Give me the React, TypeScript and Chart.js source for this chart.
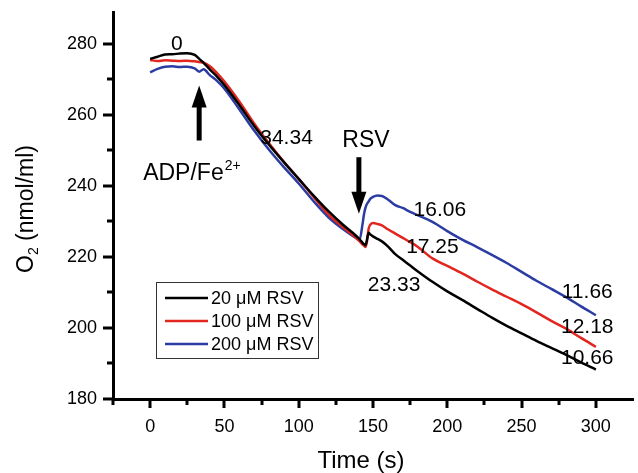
import React, { useEffect, useRef } from 'react';
import { Chart, registerables } from 'chart.js';

Chart.register(...registerables);

// ---- Data ----
const time = [0, 5, 10, 15, 20, 25, 30, 33, 36, 40, 45, 50, 60, 70, 80, 90, 100, 110, 120, 130, 138, 141, 143, 144, 145, 146, 147, 148, 150, 153, 156, 160, 165, 170, 175, 180, 190, 200, 210, 220, 230, 240, 250, 260, 270, 280, 290, 300];

const o2_20uM = [275.8, 276.4, 277.0, 277.1, 277.3, 277.4, 276.9, 275.8, 274.7, 272.9, 270.8, 268.4, 262.8, 256.9, 251.6, 246.7, 242.0, 237.3, 232.9, 229.0, 226.2, 225.0, 224.0, 223.6, 223.3, 225.0, 226.8, 226.4, 225.8, 225.1, 224.4, 223.0, 220.8, 219.2, 217.6, 216.0, 213.0, 210.3, 207.9, 205.4, 202.9, 200.6, 198.5, 196.4, 194.4, 192.4, 190.3, 188.3];

const o2_100uM = [275.5, 275.2, 275.4, 275.3, 275.2, 275.3, 275.1, 274.9, 274.7, 273.8, 271.8, 269.4, 263.8, 257.6, 252.0, 246.8, 242.0, 236.9, 232.0, 228.3, 225.6, 224.4, 223.5, 223.2, 222.8, 224.5, 227.8, 229.0, 229.6, 229.3, 228.9, 227.8, 226.6, 225.4, 224.2, 222.9, 219.6, 217.5, 215.4, 213.1, 210.9, 208.8, 206.7, 204.4, 202.0, 199.8, 197.2, 194.7];

const o2_200uM = [272.0, 273.0, 273.6, 273.7, 273.5, 273.6, 273.1, 272.2, 272.9, 271.3, 269.6, 267.4, 261.6, 255.6, 250.2, 245.3, 240.7, 235.7, 231.2, 227.8, 225.5, 224.9, 229.4, 232.2, 234.0, 235.0, 235.6, 236.3, 236.9, 237.3, 237.2, 236.2, 234.6, 233.8, 232.7, 231.8, 229.9, 227.3, 224.9, 222.8, 220.6, 218.3, 215.8, 213.3, 211.0, 208.7, 206.1, 203.6];

const seriesLabels = ['20 \u03BCM RSV', '100 \u03BCM RSV', '200 \u03BCM RSV'];
const seriesColors = ['#000000', '#e2261f', '#2b3ca2'];

const xTickLabels = [0, 50, 100, 150, 200, 250, 300];
const yTickLabels = [180, 200, 220, 240, 260, 280];

// rate annotations (text and the data position they sit at)
const rateTexts = ['0', '34.34', '16.06', '17.25', '23.33', '11.66', '12.18', '10.66'];
const rateX = [18, 91.8, 195, 190, 164.2, 294.2, 294.2, 294.2];
const rateY = [280, 253.4, 233.1, 222.8, 212.0, 210.2, 200.3, 191.4];

const FONT = '"Liberation Sans", Arial, Helvetica, sans-serif';

const annotationPlugin = {
  id: 'annotations',
  afterDraw(chart: any) {
    const ctx = chart.ctx as CanvasRenderingContext2D;
    const xs = chart.scales.x;
    const ys = chart.scales.y;
    const area = chart.chartArea;
    ctx.save();

    // tick marks
    ctx.strokeStyle = '#000';
    ctx.lineWidth = 3;
    for (let v = -25; v <= 300; v += 25) {
      const px = Math.round(xs.getPixelForValue(v));
      const major = v >= 0 && v % 50 === 0;
      ctx.beginPath();
      ctx.moveTo(px, area.bottom);
      ctx.lineTo(px, area.bottom + (major ? 9 : 6));
      ctx.stroke();
    }
    for (let v = 180; v <= 280; v += 10) {
      const py = Math.round(ys.getPixelForValue(v));
      const major = v % 20 === 0;
      ctx.beginPath();
      ctx.moveTo(area.left, py);
      ctx.lineTo(area.left - (major ? 10 : 6), py);
      ctx.stroke();
    }

    ctx.fillStyle = '#000';
    ctx.textAlign = 'center';
    ctx.textBaseline = 'middle';

    // rate numbers
    ctx.font = `21px ${FONT}`;
    rateTexts.forEach((t, i) => {
      ctx.fillText(t, xs.getPixelForValue(rateX[i]), ys.getPixelForValue(rateY[i]));
    });

    // arrows
    const drawArrow = (x: number, yTail: number, yTip: number) => {
      const px = xs.getPixelForValue(x);
      const pTail = ys.getPixelForValue(yTail);
      const pTip = ys.getPixelForValue(yTip);
      const dir = pTip < pTail ? -1 : 1;
      const headLen = 22;
      const headHalf = 7.5;
      const base = pTip - dir * headLen;
      ctx.lineWidth = 5;
      ctx.beginPath();
      ctx.moveTo(px, pTail);
      ctx.lineTo(px, base + dir * 2);
      ctx.stroke();
      ctx.beginPath();
      ctx.moveTo(px, pTip);
      ctx.lineTo(px - headHalf, base);
      ctx.lineTo(px + headHalf, base);
      ctx.closePath();
      ctx.fill();
    };
    drawArrow(33, 252.8, 268.3);
    drawArrow(140.5, 248.1, 232.2);

    // ADP/Fe2+
    ctx.textAlign = 'left';
    ctx.textBaseline = 'alphabetic';
    ctx.font = `23px ${FONT}`;
    const adpX = xs.getPixelForValue(-4.7);
    const adpY = ys.getPixelForValue(241.6);
    ctx.fillText('ADP/Fe', adpX, adpY);
    const w = ctx.measureText('ADP/Fe').width;
    ctx.font = `14px ${FONT}`;
    ctx.fillText('2+', adpX + w + 1, adpY - 10);

    // RSV
    ctx.textAlign = 'center';
    ctx.textBaseline = 'middle';
    ctx.font = `23px ${FONT}`;
    ctx.fillText('RSV', xs.getPixelForValue(145.3), ys.getPixelForValue(252.8));

    // x title
    ctx.font = `24px ${FONT}`;
    ctx.fillText('Time (s)', 361, 461);

    // y title with subscript
    ctx.save();
    ctx.translate(27, 209);
    ctx.rotate(-Math.PI / 2);
    ctx.textAlign = 'left';
    ctx.textBaseline = 'middle';
    ctx.font = `23px ${FONT}`;
    const wO = ctx.measureText('O').width;
    const rest = ' (nmol/ml)';
    const wRest = ctx.measureText(rest).width;
    ctx.font = `14px ${FONT}`;
    const w2 = ctx.measureText('2').width;
    const total = wO + w2 + wRest;
    let cx = -total / 2;
    ctx.font = `23px ${FONT}`;
    ctx.fillText('O', cx, 0);
    cx += wO;
    ctx.font = `14px ${FONT}`;
    ctx.fillText('2', cx, 7);
    cx += w2;
    ctx.font = `23px ${FONT}`;
    ctx.fillText(rest, cx, 0);
    ctx.restore();

    // legend box
    const lx = area.left + 43;
    const ly = area.top + 270;
    ctx.strokeStyle = '#333';
    ctx.lineWidth = 1;
    ctx.strokeRect(lx + 0.5, ly + 0.5, 162, 76);
    ctx.font = `18px ${FONT}`;
    ctx.textAlign = 'left';
    ctx.textBaseline = 'middle';
    seriesLabels.forEach((lab, i) => {
      const yy = ly + 16 + i * 23;
      ctx.strokeStyle = seriesColors[i];
      ctx.lineWidth = 2.5;
      ctx.beginPath();
      ctx.moveTo(lx + 9, yy);
      ctx.lineTo(lx + 52, yy);
      ctx.stroke();
      ctx.fillStyle = '#000';
      ctx.fillText(lab, lx + 55, yy + 1);
    });

    ctx.restore();
  },
};

export default function App() {
  const canvasRef = useRef<HTMLCanvasElement | null>(null);

  useEffect(() => {
    const canvas = canvasRef.current;
    if (!canvas) return;
    const seriesValues = [o2_20uM, o2_100uM, o2_200uM];
    const chart = new Chart(canvas, {
      type: 'line',
      data: {
        datasets: seriesValues.map((vals, i) => ({
          label: seriesLabels[i],
          data: time.map((t, j) => ({ x: t, y: vals[j] })),
          borderColor: seriesColors[i],
          backgroundColor: seriesColors[i],
          borderWidth: 2.5,
          pointRadius: 0,
          fill: false,
          cubicInterpolationMode: 'monotone' as const,
        })),
      },
      options: {
        responsive: false,
        animation: false,
        devicePixelRatio: 1,
        layout: { padding: { top: 12, right: 5, left: 0, bottom: 0 } },
        plugins: {
          legend: { display: false },
          tooltip: { enabled: false },
        },
        scales: {
          x: {
            type: 'linear',
            min: -25,
            max: 325,
            border: { display: true, color: '#000', width: 3 },
            grid: {
              display: true,
              drawOnChartArea: false,
              drawTicks: true,
              tickLength: 9,
              tickColor: 'rgba(0,0,0,0)',
            },
            ticks: {
              stepSize: 25,
              autoSkip: false,
              maxRotation: 0,
              padding: 8,
              color: '#000',
              font: { family: FONT, size: 18 },
              callback: (v: any) => (xTickLabels.includes(Number(v)) ? String(v) : ''),
            },
            afterFit: (s: any) => {
              s.height = 74;
              s.paddingLeft = 0;
              s.paddingRight = 0;
            },
          },
          y: {
            type: 'linear',
            min: 180,
            max: 289,
            border: { display: true, color: '#000', width: 3 },
            grid: {
              display: true,
              drawOnChartArea: false,
              drawTicks: true,
              tickLength: 10,
              tickColor: 'rgba(0,0,0,0)',
            },
            ticks: {
              stepSize: 10,
              includeBounds: false,
              autoSkip: false,
              padding: 6,
              color: '#000',
              font: { family: FONT, size: 18 },
              callback: (v: any) => (yTickLabels.includes(Number(v)) ? String(v) : ''),
            },
            afterFit: (s: any) => {
              s.width = 113;
              s.paddingTop = 0;
              s.paddingBottom = 0;
            },
          },
        },
      },
      plugins: [annotationPlugin],
    });
    return () => chart.destroy();
  }, []);

  return (
    <div style={{ position: 'absolute', left: 0, top: 0, width: 638, height: 473, background: '#fff' }}>
      <canvas ref={canvasRef} width={638} height={473} style={{ display: 'block' }} />
    </div>
  );
}
